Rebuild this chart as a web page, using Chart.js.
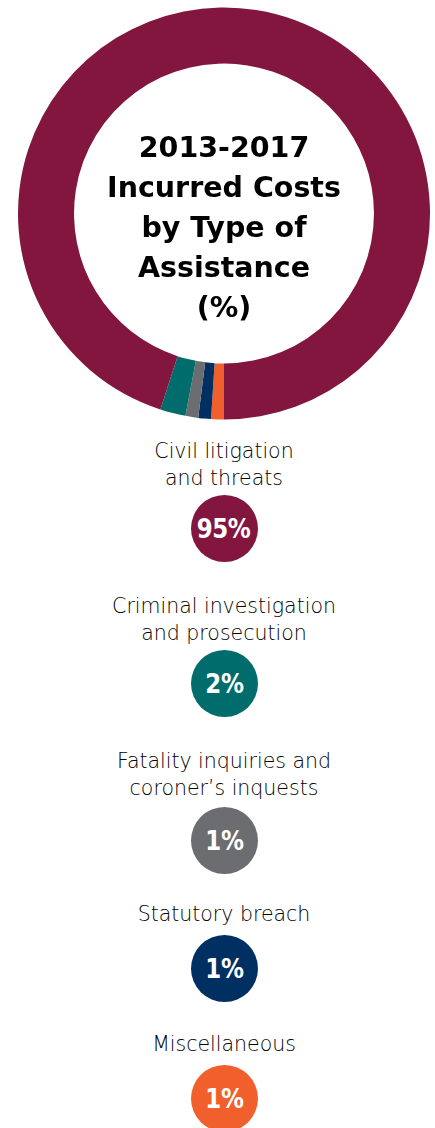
<!DOCTYPE html>
<html>
<head>
<meta charset="utf-8">
<script src="https://cdn.jsdelivr.net/npm/chart.js@4/dist/chart.umd.min.js"></script>
<style>
  html, body { margin: 0; padding: 0; background: #ffffff; }
  body { width: 435px; height: 1128px; position: relative; overflow: hidden; font-family: "DejaVu Sans", sans-serif; }
  #chartWrap { position: absolute; left: 0; top: 0; width: 435px; height: 427px; }
  #title { position: absolute; left: 64px; width: 320px; top: 128px; text-align: center;
           font-family: "DejaVu Sans", sans-serif; font-weight: bold; font-size: 28.5px; line-height: 40px; color: #000; }
  .label { position: absolute; left: 0; width: 448px; text-align: center; font-family: "DejaVu Sans", sans-serif;
           font-weight: 200; font-size: 20.5px; line-height: 27px; color: #000; white-space: pre-line; }
  .badge { position: absolute; width: 67px; height: 67px; border-radius: 50%; left: 190.5px;
           display: flex; align-items: center; justify-content: center; color: #fff; }
  .badge span { display: inline-block; font-family: "DejaVu Sans", sans-serif; font-weight: bold; font-size: 27px;
                transform: scaleX(0.85); letter-spacing: -0.5px; }
</style>
</head>
<body>
<div id="chartWrap"><canvas id="c" width="435" height="427"></canvas></div>
<div id="title">2013-2017<br>Incurred Costs<br>by Type of<br>Assistance<br>(%)</div>
<div id="legend"></div>
<script>
// ---- data ----
const categories = [
  "Civil litigation\nand threats",
  "Criminal investigation\nand prosecution",
  "Fatality inquiries and\ncoroner’s inquests",
  "Statutory breach",
  "Miscellaneous"
];
const shares = [95, 2, 1, 1, 1];
const colors = ["#83163f", "#006c6c", "#6c6d70", "#002f62", "#f15f2c"];

// ---- layout (label block top y, badge centre y) ----
const labelTops = [437.5, 592.5, 747.5, 900.5, 1030.5];
const badgeCenters = [528, 683, 840, 968, 1098];

// chart draws clockwise from bottom: Miscellaneous, Statutory, Fatality, Criminal, Civil
const order = [4, 3, 2, 1, 0];

new Chart(document.getElementById('c'), {
  type: 'doughnut',
  data: {
    labels: order.map(i => categories[i].replace('\n', ' ')),
    datasets: [{
      data: order.map(i => shares[i]),
      backgroundColor: order.map(i => colors[i]),
      borderWidth: 0
    }]
  },
  options: {
    responsive: false,
    animation: false,
    rotation: 180,
    cutout: '72.8%',
    layout: { padding: { left: 18, right: 5, top: 7.5, bottom: 7.5 } },
    plugins: { legend: { display: false }, tooltip: { enabled: false } },
    events: []
  }
});

const legend = document.getElementById('legend');
categories.forEach((cat, i) => {
  const l = document.createElement('div');
  l.className = 'label';
  l.style.top = labelTops[i] + 'px';
  l.textContent = cat;
  legend.appendChild(l);
  const b = document.createElement('div');
  b.className = 'badge';
  b.style.top = (badgeCenters[i] - 33.5) + 'px';
  b.style.background = colors[i];
  const s = document.createElement('span');
  s.textContent = shares[i] + '%';
  b.appendChild(s);
  legend.appendChild(b);
});
</script>
</body>
</html>
